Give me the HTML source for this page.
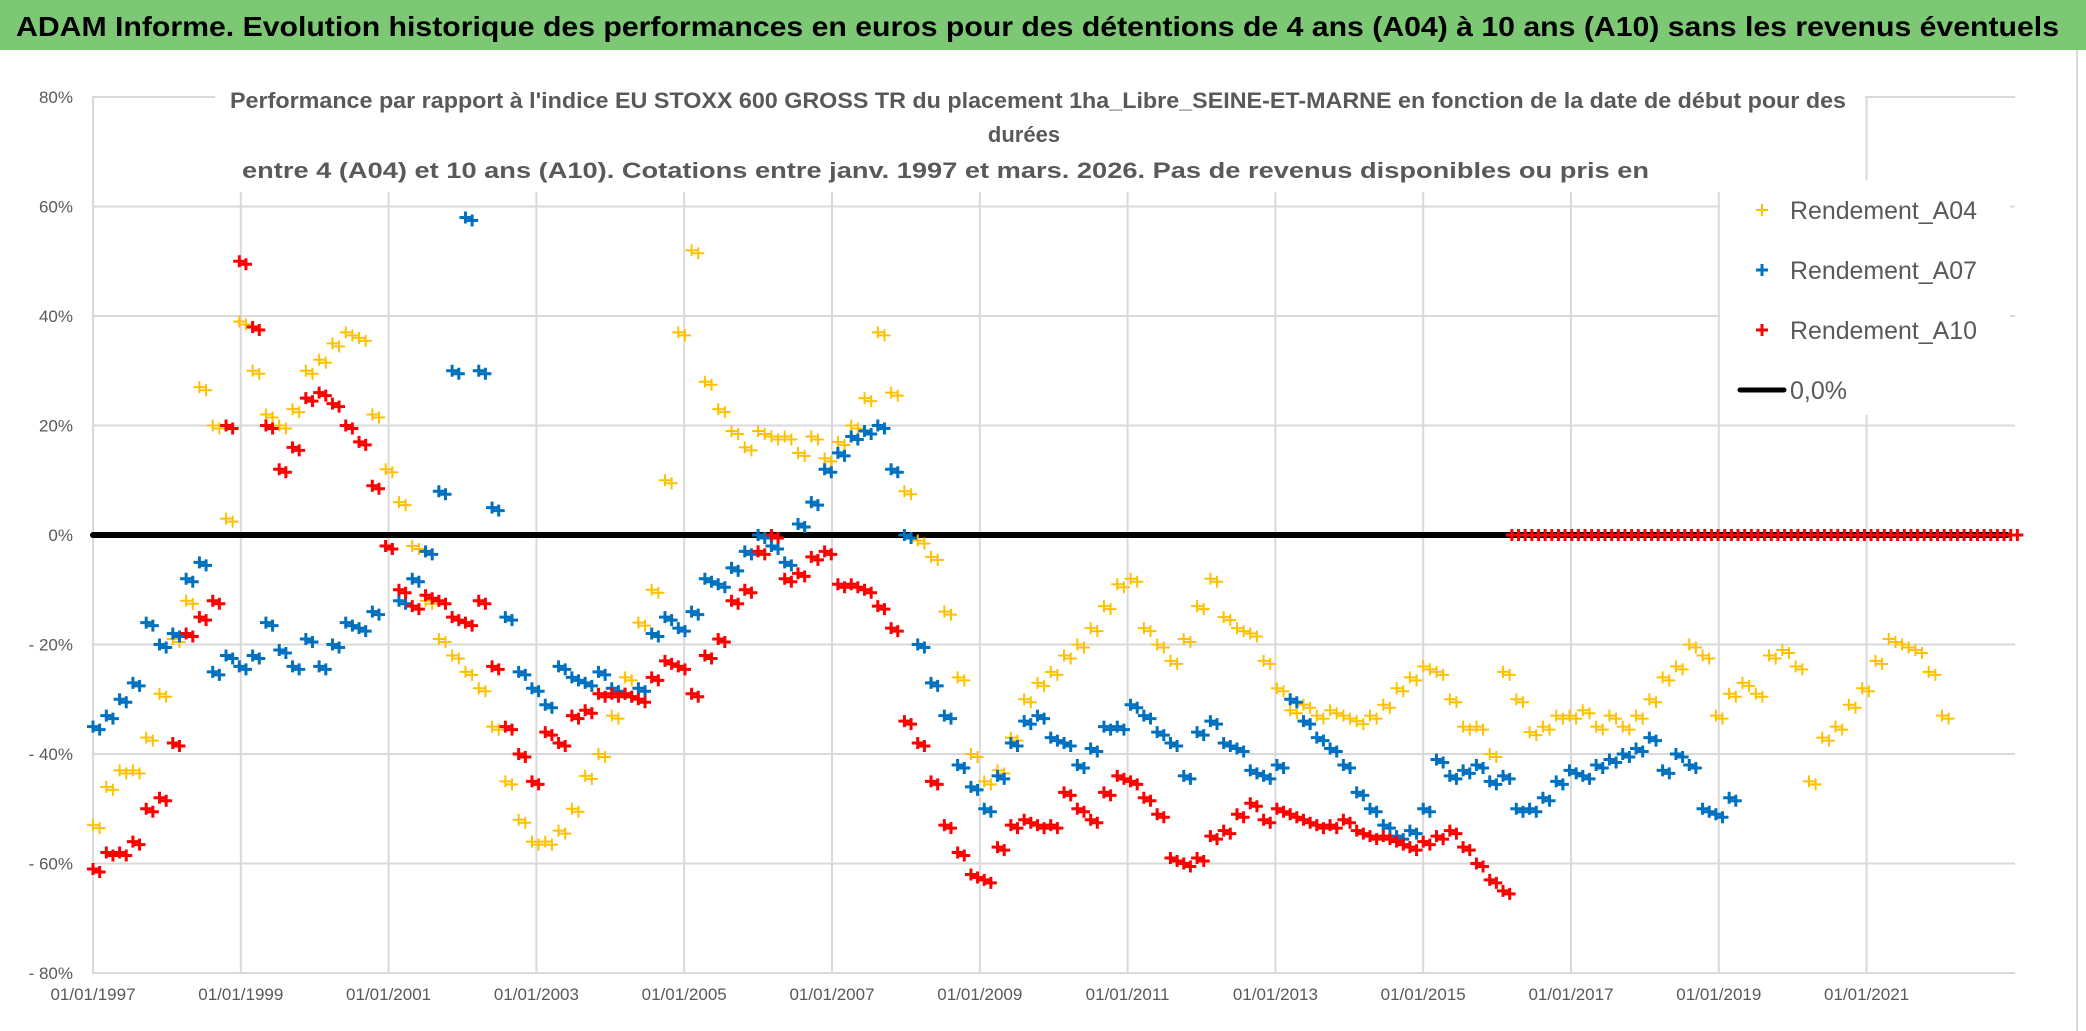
<!DOCTYPE html>
<html><head><meta charset="utf-8"><style>
html,body{margin:0;padding:0;background:#fff;}
svg{display:block;font-family:"Liberation Sans",sans-serif;}
</style></head><body>
<svg id="chart" width="2086" height="1031" viewBox="0 0 2086 1031" xmlns="http://www.w3.org/2000/svg">
<rect x="0" y="0" width="2086" height="1031" fill="#fff"/>
<rect x="0" y="0" width="2086" height="50" fill="#7cc874"/>
<text x="16" y="36" font-size="28" font-weight="bold" fill="#000" textLength="2043" lengthAdjust="spacingAndGlyphs">ADAM Informe. Evolution historique des performances en euros pour des détentions de 4 ans (A04) à 10 ans (A10) sans les revenus éventuels</text>
<line x1="2077" y1="50" x2="2077" y2="1031" stroke="#d9d9d9" stroke-width="2"/>
<g id="grid"></g>
<g id="marks"></g>
<rect x="215" y="70" width="1650" height="122" fill="#fff"/>
<text x="230" y="108" font-size="22" font-weight="bold" fill="#595959" textLength="1616" lengthAdjust="spacingAndGlyphs">Performance par rapport à l'indice EU STOXX 600 GROSS TR  du placement 1ha_Libre_SEINE-ET-MARNE en fonction de la date de début pour des</text>
<text x="1024" y="142" font-size="22" font-weight="bold" fill="#595959" text-anchor="middle">durées</text>
<text x="242" y="178" font-size="22" font-weight="bold" fill="#595959" textLength="1407" lengthAdjust="spacingAndGlyphs">entre 4 (A04) et 10 ans (A10). Cotations entre janv. 1997 et mars. 2026. Pas de revenus disponibles ou pris en</text>
<g>
<rect x="1720" y="180" width="290" height="235" fill="#fff"/>
<g><path d="M1756 210h12M1762 204v12" stroke="#ffc000" stroke-width="2"/><text x="1790" y="219" font-size="25" fill="#595959" textLength="187" lengthAdjust="spacingAndGlyphs">Rendement_A04</text></g>
<g><path d="M1756 270h12M1762 264v12" stroke="#0070c0" stroke-width="3"/><text x="1790" y="279" font-size="25" fill="#595959" textLength="187" lengthAdjust="spacingAndGlyphs">Rendement_A07</text></g>
<g><path d="M1756 330h12M1762 324v12" stroke="#ff0000" stroke-width="3"/><text x="1790" y="339" font-size="25" fill="#595959" textLength="187" lengthAdjust="spacingAndGlyphs">Rendement_A10</text></g>
<g><line x1="1740" y1="390" x2="1784" y2="390" stroke="#000" stroke-width="5" stroke-linecap="round"/><text x="1790" y="399" font-size="25" fill="#595959">0,0%</text></g>
</g>
</svg>
<script>
const yTicks=[80,60,40,20,0,-20,-40,-60,-80];
const yTickLabels=["80%","60%","40%","20%","0%","- 20%","- 40%","- 60%","- 80%"];
const xTickYears=[1997,1999,2001,2003,2005,2007,2009,2011,2013,2015,2017,2019,2021];
const xTickLabels=["01/01/1997","01/01/1999","01/01/2001","01/01/2003","01/01/2005","01/01/2007","01/01/2009","01/01/2011","01/01/2013","01/01/2015","01/01/2017","01/01/2019","01/01/2021"];
const startYear=1997;
const stepYears=0.18;
const a04=[-53,-46,-43,-43,-37,-29,-19,-12,27,20,3,39,30,22,20,23,30,32,35,37,36,22,12,6,-2,-12,-19,-22,-25,-28,-35,-45,-52,-56,-56,-54,-50,-44,-40,-33,-26,-16,-10,10,37,52,28,23,19,16,19,18,18,15,18,14,17,20,25,37,26,8,-1,-4,-14,-26,-40,-45,-43,-37,-30,-27,-25,-22,-20,-17,-13,-9,-8,-17,-20,-23,-19,-13,-8,-15,-17,-18,-23,-28,-32,-31,-33,-32,-33,-34,-33,-31,-28,-26,-24,-25,-30,-35,-35,-40,-25,-30,-36,-35,-33,-33,-32,-35,-33,-35,-33,-30,-26,-24,-20,-22,-33,-29,-27,-29,-22,-21,-24,-45,-37,-35,-31,-28,-23,-19,-20,-21,-25,-33];
const a07=[-35,-33,-30,-27,-16,-20,-18,-8,-5,-25,-22,-24,-22,-16,-21,-24,-19,-24,-20,-16,-17,-14,-2,-12,-8,-3,8,30,58,30,5,-15,-25,-28,-31,-24,-26,-27,-25,-28,-29,-28,-18,-15,-17,-14,-8,-9,-6,-3,0,-2,-5,2,6,12,15,18,19,20,12,0,-20,-27,-33,-42,-46,-50,-44,-38,-34,-33,-37,-38,-42,-39,-35,-35,-31,-33,-36,-38,-44,-36,-34,-38,-39,-43,-44,-42,-30,-34,-37,-39,-42,-47,-50,-53,-55,-54,-50,-41,-44,-43,-42,-45,-44,-50,-50,-48,-45,-43,-44,-42,-41,-40,-39,-37,-43,-40,-42,-50,-51,-48];
const a10=[-61,-58,-58,-56,-50,-48,-38,-18,-15,-12,20,50,38,20,12,16,25,26,24,20,17,9,-2,-10,-13,-11,-12,-15,-16,-12,-24,-35,-40,-45,-36,-38,-33,-32,-29,-29,-29,-30,-26,-23,-24,-29,-22,-19,-12,-10,-3,0,-8,-7,-4,-3,-9,-9,-10,-13,-17,-34,-38,-45,-53,-58,-62,-63,-57,-53,-52,-53,-53,-47,-50,-52,-47,-44,-45,-48,-51,-59,-60,-59,-55,-54,-51,-49,-52,-50,-51,-52,-53,-53,-52,-54,-55,-55,-56,-57,-56,-55,-54,-57,-60,-63,-65];
const a10ZeroStart=2016.2;
const a10Zero=[0,0,0,0,0,0,0,0,0,0,0,0,0,0,0,0,0,0,0,0,0,0,0,0,0,0,0,0,0,0,0,0,0,0,0,0,0,0,0,0,0,0,0,0,0,0,0,0,0,0,0,0,0,0,0,0,0,0,0,0,0,0,0,0,0,0,0,0,0,0,0,0,0,0,0,0,0];
const zeroLineStart=1997, zeroLineEnd=2022.9;
const NS="http://www.w3.org/2000/svg";
function xs(year){return 93+(year-1997)*73.9;}
function ys(v){return 535-v*5.475;}
const grid=document.getElementById('grid');
const marks=document.getElementById('marks');
function mk(tag,attrs,parent){const e=document.createElementNS(NS,tag);for(const k in attrs)e.setAttribute(k,attrs[k]);parent.appendChild(e);return e;}
yTicks.forEach((t,i)=>{
  const l=mk('line',{x1:92,x2:2015,y1:ys(t),y2:ys(t),stroke:'#d9d9d9','stroke-width':2},grid);
  
  
  const tx=mk('text',{x:73,y:ys(t)+6,'font-size':17,fill:'#595959','text-anchor':'end'},grid);
  tx.textContent=yTickLabels[i];
  
  
});
xTickYears.forEach((yr,i)=>{
  const l=mk('line',{x1:xs(yr),x2:xs(yr),y1:ys(80),y2:ys(-80),stroke:'#d9d9d9','stroke-width':2},grid);
  
  
  const tx=mk('text',{x:xs(yr),y:1000,'font-size':17,fill:'#595959','text-anchor':'middle'},grid);
  tx.textContent=xTickLabels[i];
  
  
});
const zl=mk('line',{x1:xs(zeroLineStart),x2:xs(zeroLineEnd),y1:ys(0),y2:ys(0),stroke:'#000','stroke-width':6,'stroke-linecap':'round'},marks);


function plus(x,y,color,w,name){
  const p=mk('path',{d:`M${x-6} ${y}h12M${x} ${y-6}v12`,stroke:color,'stroke-width':w},marks);
  
  
}
function series(vals,start,step,color,w,name){
  vals.forEach((v,i)=>{const yr=start+i*step;plus(xs(yr),ys(v),color,w,name);plus(xs(yr+step/2),ys(v)+3,color,w,name);});
}
series(a04,startYear,stepYears,'#ffc000',2,'point-a04');
series(a07,startYear,stepYears,'#0070c0',3,'point-a07');
series(a10,startYear,stepYears,'#ff0000',3,'point-a10');
a10Zero.forEach((v,i)=>{plus(xs(a10ZeroStart+i*0.09),ys(v),'#ff0000',3,'point-a10-zero');});
</script>
</body></html>
